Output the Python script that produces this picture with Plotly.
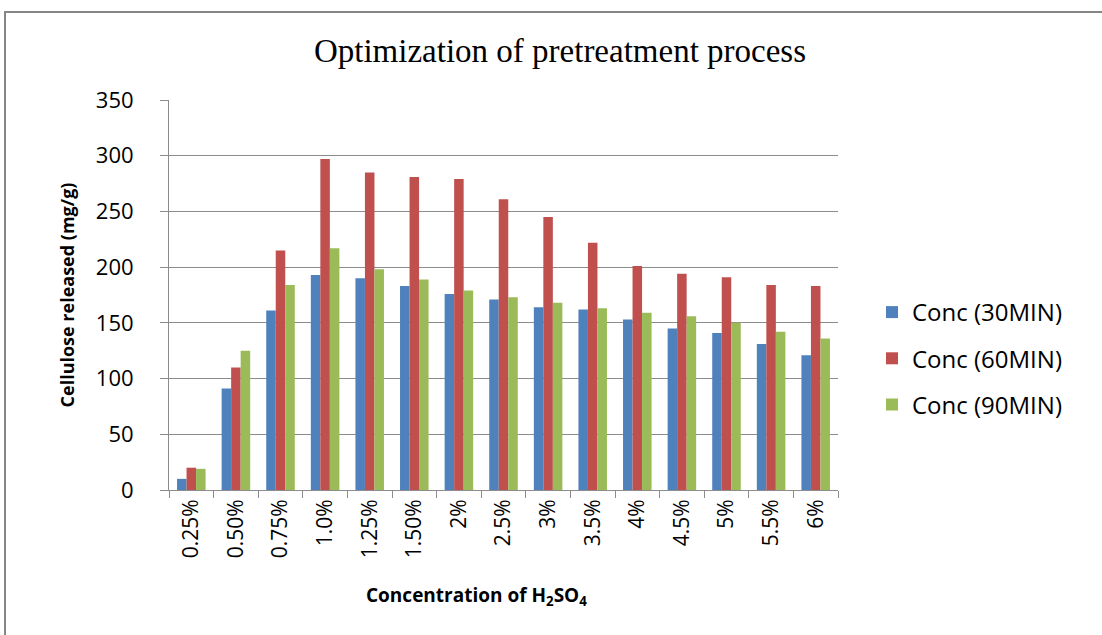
import plotly.graph_objects as go

# ─── Data ─────────────────────────────────────────────────────────────────────
categories = ["0.25%", "0.50%", "0.75%", "1.0%", "1.25%", "1.50%", "2%", "2.5%",
              "3%", "3.5%", "4%", "4.5%", "5%", "5.5%", "6%"]
conc_30 = [10, 91, 161, 193, 190, 183, 176, 171, 164, 162, 153, 145, 141, 131, 121]
conc_60 = [20, 110, 215, 297, 285, 281, 279, 261, 245, 222, 201, 194, 191, 184, 183]
conc_90 = [19, 125, 184, 217, 198, 189, 179, 173, 168, 163, 159, 156, 150, 142, 136]

series_names = ["Conc (30MIN)", "Conc (60MIN)", "Conc (90MIN)"]
series_colors = ["#4F81BD", "#C0504D", "#9BBB59"]

SANS = "Open Sans, sans-serif"
GRID = "#8C8C8C"

# plot area in pixels
L, R, T, B = 169, 838, 100, 490
W, H = 1102, 635

fig = go.Figure()
for name, vals, col in zip(series_names, [conc_30, conc_60, conc_90], series_colors):
    fig.add_trace(go.Bar(
        x=categories, y=vals, name=name, legendgroup=name,
        marker=dict(color=col, line=dict(width=0)),
    ))


def px_x(p):
    return (p - L) / (R - L)


def px_y(p):
    return (B - p) / (B - T)


fig.update_layout(
    width=W, height=H,
    margin=dict(l=L, r=W - R, t=T, b=H - B, autoexpand=False),
    barmode="group", bargap=0.36, bargroupgap=0,
    paper_bgcolor="white", plot_bgcolor="white",
    font=dict(family=SANS, color="#000000"),
    title=dict(
        text="Optimization of pretreatment process",
        x=560 / W, xanchor="center", y=1 - 50 / H, yanchor="middle",
        font=dict(family="Liberation Serif, serif", size=33, color="#000000"),
    ),
    legend=dict(
        x=px_x(872), xanchor="left", y=px_y(290), yanchor="top",
        font=dict(size=24, color="#000000"),
        traceorder="grouped", tracegroupgap=12,
        itemwidth=30, bgcolor="rgba(0,0,0,0)",
    ),
    showlegend=True,
    shapes=[dict(
        type="rect", xref="paper", yref="paper",
        x0=px_x(5), x1=px_x(1115), y0=px_y(650), y1=px_y(12),
        line=dict(color="#868686", width=2), fillcolor="rgba(0,0,0,0)",
    )],
    annotations=[dict(
        text="Concentration of H<sub>2</sub>SO<sub>4</sub>",
        xref="paper", yref="paper", x=px_x(476), y=px_y(596),
        xanchor="center", yanchor="middle", showarrow=False,
        font=dict(family=SANS, size=19, weight="bold", color="#000000"),
    )],
)

fig.update_yaxes(
    range=[0, 350], dtick=50,
    showgrid=True, gridcolor=GRID, gridwidth=1,
    showline=True, linecolor=GRID, linewidth=1,
    ticks="outside", ticklen=8, tickcolor=GRID,
    ticklabelstandoff=22,
    tickfont=dict(family=SANS, size=22, color="#000000"),
    title=dict(text="Cellulose released (mg/g)", standoff=16,
               font=dict(family=SANS, size=18, weight="bold", color="#000000")),
    zeroline=False,
)
fig.update_xaxes(
    showline=True, linecolor=GRID, linewidth=1,
    ticks="outside", ticklen=7, tickcolor=GRID, tickson="boundaries",
    tickangle=-90,
    tickfont=dict(family=SANS, size=21, color="#000000"),
)

fig.write_html("out.html", config={"displayModeBar": False},
               post_script="document.body.style.margin='0';")
